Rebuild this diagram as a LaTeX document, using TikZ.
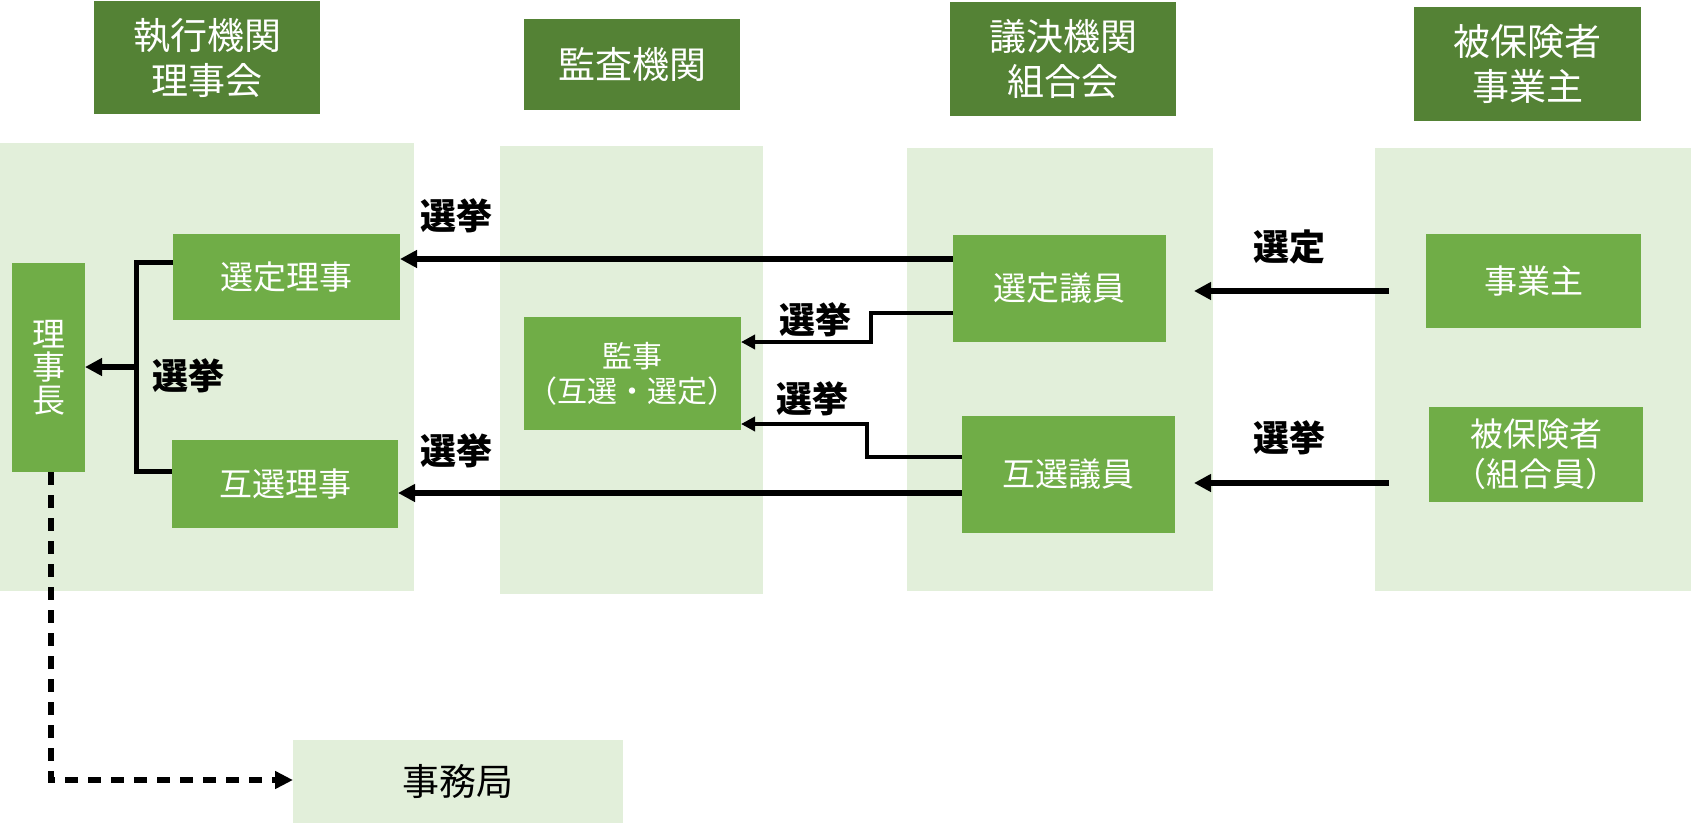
\documentclass[tikz,border=0pt]{standalone}
\usepackage{fontspec}
\setmainfont{Noto Sans CJK JP}
\usetikzlibrary{arrows.meta}
\definecolor{hdrgreen}{HTML}{548235}
\definecolor{midgreen}{HTML}{70AD47}
\definecolor{lightgreen}{HTML}{E2EFDA}
\begin{document}
\begin{tikzpicture}[x=1pt,y=-1pt,
  panel/.style={fill=lightgreen, draw=none, inner sep=0pt, outer sep=0pt, anchor=north west},
  hdr/.style={fill=hdrgreen, text=white, inner sep=0pt, outer sep=0pt, anchor=north west, align=center, font=\fontsize{37}{45}\selectfont},
  inbox/.style={fill=midgreen, text=white, inner sep=0pt, outer sep=0pt, anchor=north west, align=center, font=\fontsize{33}{40}\selectfont},
  lbl/.style={inner sep=0pt, font=\fontsize{36}{43}\selectfont\bfseries},
  thickarrow/.style={line width=6pt, -{Triangle[length=17pt,width=17pt]}},
  thinarrow/.style={line width=4pt, -{Triangle[length=14pt,width=14pt]}},
  bracketline/.style={line width=5pt},
  dasharrow/.style={line width=5.5pt, dash pattern=on 13pt off 10pt, -{Triangle[length=18pt,width=17pt]}}
]
\useasboundingbox (0,0) rectangle (1691,827);
% panels
\node[panel, minimum width=414pt, minimum height=448pt] (pA) at (0,143) {};
\node[panel, minimum width=263pt, minimum height=448pt] (pB) at (500,146) {};
\node[panel, minimum width=306pt, minimum height=443pt] (pC) at (907,148) {};
\node[panel, minimum width=316pt, minimum height=443pt] (pD) at (1375,148) {};
\node[panel, minimum width=330pt, minimum height=83pt, font=\fontsize{37}{45}\selectfont, text=black] (jmk) at (293,740) {事務局};
% headers
\node[hdr, minimum width=226pt, minimum height=113pt] (h1) at (94,1) {執行機関\\理事会};
\node[hdr, minimum width=216pt, minimum height=91pt] (h2) at (524,19) {監査機関};
\node[hdr, minimum width=226pt, minimum height=114pt] (h3) at (950,2) {議決機関\\組合会};
\node[hdr, minimum width=227pt, minimum height=114pt] (h4) at (1414,7) {被保険者\\事業主};
% inner boxes
\node[inbox, minimum width=73pt, minimum height=209pt] (rjc) at (12,263) {理\\[-7pt]事\\[-7pt]長};
\node[inbox, minimum width=227pt, minimum height=86pt] (srj) at (173,234) {選定理事};
\node[inbox, minimum width=226pt, minimum height=88pt] (grj) at (172,440) {互選理事};
\node[inbox, minimum width=217pt, minimum height=113pt, font=\fontsize{30}{35}\selectfont] (kanji) at (524,317) {監事\\（互選・選定）};
\node[inbox, minimum width=213pt, minimum height=107pt] (sgi) at (953,235) {選定議員};
\node[inbox, minimum width=213pt, minimum height=117pt] (ggi) at (962,416) {互選議員};
\node[inbox, minimum width=215pt, minimum height=94pt] (jgs) at (1426,234) {事業主};
\node[inbox, minimum width=214pt, minimum height=95pt] (hhk) at (1429,407) {被保険者\\（組合員）};
% row coordinates
\coordinate (yA) at (0,259);
\coordinate (yB) at (0,493);
\coordinate (yC) at (0,291);
\coordinate (yD) at (0,483);
\coordinate (bt) at (136.5,262.5);
\coordinate (bb) at (136.5,471.5);
\coordinate (bm) at (136.5,367);
\coordinate (e1a) at (870.5,313);
\coordinate (e1b) at (870.5,342);
\coordinate (e2a) at (867,456.5);
\coordinate (e2b) at (867,424);
\coordinate (sA) at (1389,291);
\coordinate (tA) at (1194,291);
\coordinate (sB) at (1389,483);
\coordinate (tB) at (1194,483);
\coordinate (dc) at (51,780);
\coordinate (ds) at (51,472);
% bracket
\draw[bracketline] (srj.west |- bt) -- (bt) -- (bb) -- (grj.west |- bb);
\draw[thickarrow] (bm) -- (rjc.east |- bm);
% long arrows
\draw[thickarrow] (sgi.west |- yA) -- (srj.east |- yA);
\draw[thickarrow] (ggi.west |- yB) -- (grj.east |- yB);
\draw[thickarrow] (sA) -- (tA);
\draw[thickarrow] (sB) -- (tB);
% elbows
\draw[thinarrow] (sgi.west |- e1a) -- (e1a) -- (e1b) -- (kanji.east |- e1b);
\draw[thinarrow] (ggi.west |- e2a) -- (e2a) -- (e2b) -- (kanji.east |- e2b);
% dashed
\draw[dasharrow] (ds) -- (dc) -- (jmk.west |- dc);
% labels
\node[lbl] (l1) at (456,216) {選挙};
\node[lbl] (l2) at (456,451) {選挙};
\node[lbl] (l3) at (815,320) {選挙};
\node[lbl] (l4) at (812,399) {選挙};
\node[lbl] (l5) at (188,376) {選挙};
\node[lbl] (l6) at (1289,247) {選定};
\node[lbl] (l7) at (1289,438) {選挙};
\end{tikzpicture}
\end{document}
